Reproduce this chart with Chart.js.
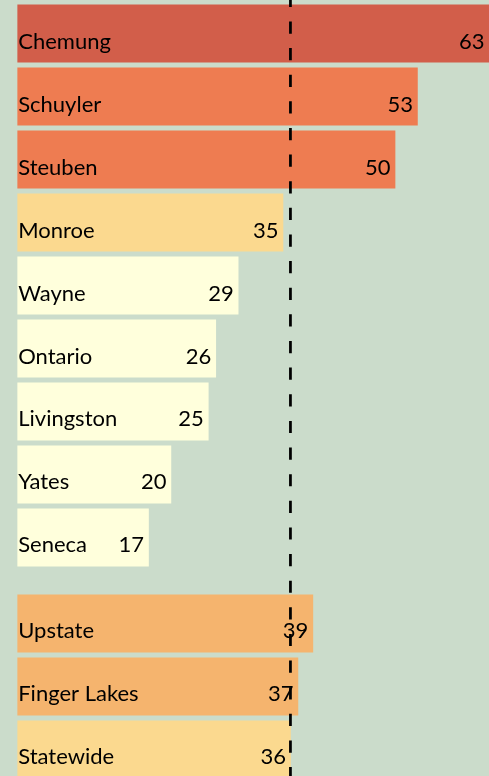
<!DOCTYPE html>
<html>
<head>
<meta charset="utf-8">
<script src="https://cdn.jsdelivr.net/npm/chart.js@4.4.1/dist/chart.umd.min.js"></script>
<style>
  html, body { margin: 0; padding: 0; background: #cbdccb; overflow: hidden; }
  #wrap { position: relative; width: 489px; height: 776px; }
</style>
</head>
<body>
<div id="wrap"><canvas id="chart"></canvas></div>
<script>
// ---- data ----
const countyNames  = ["Chemung", "Schuyler", "Steuben", "Monroe", "Wayne", "Ontario", "Livingston", "Yates", "Seneca"];
const countyValues = [63, 53, 50, 35, 29, 26, 25, 20, 17];
const regionNames  = ["Upstate", "Finger Lakes", "Statewide"];
const regionValues = [39, 37, 36];
const referenceIndex = 2; // dashed line at the Statewide value

// ---- styles ----
const countyColors = ["#d25e4a", "#ee7c51", "#ee7c51", "#fbd98f", "#ffffdc", "#ffffdc", "#ffffdc", "#ffffdc", "#ffffdc"];
const regionColors = ["#f5b46e", "#f5b46e", "#fbd98f"];
const GROUP_GAP = 0.365;     // extra space between the county block and the region block (in rows)
const X_MIN = -0.51, X_MAX = 62.58;
const Y_MIN = -0.532, Y_MAX = 11.786;
const FONT = '22px Lato';

const allNames  = countyNames.concat(regionNames);
const allValues = countyValues.concat(regionValues);
const rowPos = allNames.map((_, i) => i < countyNames.length ? i : i + GROUP_GAP);
const points = allValues.map((v, i) => ({ x: v, y: rowPos[i] }));

const labelPlugin = {
  id: 'barLabels',
  afterDatasetsDraw(chart) {
    const ctx = chart.ctx, area = chart.chartArea;
    const meta = chart.getDatasetMeta(0);
    ctx.save();
    ctx.font = FONT;
    ctx.fillStyle = '#000';
    ctx.textBaseline = 'alphabetic';
    meta.data.forEach((bar, i) => {
      const y = bar.y + 15;
      ctx.textAlign = 'left';
      ctx.fillText(allNames[i], area.left + 0.5, y);
      ctx.textAlign = 'right';
      ctx.fillText(String(allValues[i]), Math.min(bar.x, area.right) - 4.5, y);
    });
    const xr = chart.scales.x.getPixelForValue(regionValues[referenceIndex]);
    ctx.setLineDash([12.2, 14.43]);
    ctx.lineDashOffset = 5.2;
    ctx.lineWidth = 2.75;
    ctx.strokeStyle = '#000';
    ctx.beginPath();
    ctx.moveTo(xr, 0);
    ctx.lineTo(xr, chart.height);
    ctx.stroke();
    ctx.restore();
  }
};

new Chart(document.getElementById('chart'), {
  type: 'bar',
  data: {
    datasets: [{
      data: points,
      backgroundColor: countyColors.concat(regionColors),
      borderWidth: 0,
      barThickness: 57.5,
      base: X_MIN,
      clip: false
    }]
  },
  options: {
    indexAxis: 'y',
    responsive: true,
    maintainAspectRatio: false,
    animation: false,
    layout: { padding: { left: 17.7, right: 0, top: 0, bottom: 0 } },
    scales: {
      x: { type: 'linear', min: X_MIN, max: X_MAX, offset: false, display: false, grid: { display: false } },
      y: { type: 'linear', min: Y_MIN, max: Y_MAX, offset: false, reverse: true, display: false, grid: { display: false } }
    },
    plugins: { legend: { display: false }, tooltip: { enabled: false }, title: { display: false } }
  },
  plugins: [labelPlugin]
});
</script>
</body>
</html>
